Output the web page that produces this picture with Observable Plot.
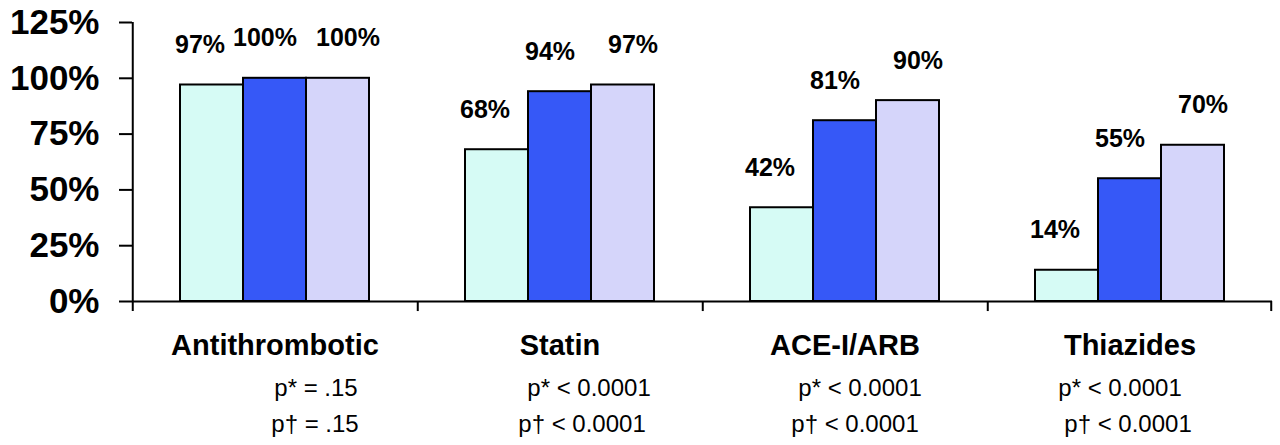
<!DOCTYPE html>
<html>
<head>
<meta charset="utf-8">
<script src="https://cdn.jsdelivr.net/npm/d3@7"></script>
<script src="https://cdn.jsdelivr.net/npm/@observablehq/plot@0.6"></script>
<style>
  html, body { margin: 0; padding: 0; background: #fff; }
  #chart svg { display: block; font-family: "Liberation Sans", Arial, sans-serif; }
  #chart [aria-label="y-axis tick label"] text { font-weight: bold; }
  #chart [aria-label="y-axis tick"] { stroke-width: 2px; stroke: #000; }
</style>
</head>
<body>
<div id="chart"></div>
<script>
const categories = ["Antithrombotic", "Statin", "ACE-I/ARB", "Thiazides"];
const series = ["Group 1", "Group 2", "Group 3"];
const values1 = [97, 68, 42, 14];
const values2 = [100, 94, 81, 55];
const values3 = [100, 97, 90, 70];
const pStar = ["p* = .15", "p* < 0.0001", "p* < 0.0001", "p* < 0.0001"];
const pDagger = ["p\u2020 = .15", "p\u2020 < 0.0001", "p\u2020 < 0.0001", "p\u2020 < 0.0001"];
const yTicks = [0, 25, 50, 75, 100, 125];
const colors = ["#d6fbf5", "#3658f7", "#d5d5fa"];

const seriesValues = [values1, values2, values3];
const data = categories.flatMap((c, i) =>
  series.map((s, j) => ({category: c, series: s, value: seriesValues[j][i]}))
);
const pData = categories.map((c, i) => ({category: c, star: pStar[i], dagger: pDagger[i]}));

const W = 1280, H = 445, ML = 131, MR = 8, MT = 22, MB = 144;
const facetW = (W - ML - MR) / categories.length;
const step = facetW / (series.length + 1.5);
const edge = step * 1.25; // from centre of first/last bar to facet edge

const labelDx = [-12, -10, 10];
const pStarDx = [41, 29, 15, -10];
const pDaggerDx = [40, 22, 10, -2];

const marks = [
  Plot.barY(data, {fx: "category", x: "series", y: "value", fill: "series", stroke: "black", strokeWidth: 2}),
  Plot.ruleY([0], {stroke: "black", strokeWidth: 2}),
  Plot.ruleX([categories[0]], {fx: d => d, x: () => series[0], y1: -4.5, y2: 125, dx: -edge, stroke: "black", strokeWidth: 2}),
  Plot.ruleX(categories.slice(1), {fx: d => d, x: () => series[0], y1: -4.5, y2: 0, dx: -edge, stroke: "black", strokeWidth: 2}),
  Plot.ruleX([categories[categories.length - 1]], {fx: d => d, x: () => series[series.length - 1], y1: -4.5, y2: 0, dx: edge - 1, stroke: "black", strokeWidth: 2}),
  Plot.axisY({ticks: yTicks, tickFormat: d => d + "%", tickSize: 13, tickPadding: 20, fontSize: 35, fontWeight: "bold", strokeWidth: 2, stroke: "black", fill: "black", label: null}),
  Plot.text(categories, {fx: d => d, x: () => series[1], frameAnchor: "bottom", text: d => d, dy: 44, lineAnchor: "middle", fontSize: 29, fontWeight: "bold", fill: "black"})
];
series.forEach((s, j) => {
  marks.push(Plot.text(data.filter(d => d.series === s), {fx: "category", x: "series", y: "value", text: d => d.value + "%", dy: -40, dx: labelDx[j], lineAnchor: "middle", fontSize: 25, fontWeight: "bold", fill: "black"}));
});
categories.forEach((c, i) => {
  const row = pData.filter(d => d.category === c);
  marks.push(Plot.text(row, {fx: "category", x: () => series[1], frameAnchor: "bottom", text: "star", dy: 87, dx: pStarDx[i], lineAnchor: "middle", fontSize: 24, fill: "black"}));
  marks.push(Plot.text(row, {fx: "category", x: () => series[1], frameAnchor: "bottom", text: "dagger", dy: 123, dx: pDaggerDx[i], lineAnchor: "middle", fontSize: 24, fill: "black"}));
});

const chart = Plot.plot({
  width: W, height: H,
  marginLeft: ML, marginRight: MR, marginTop: MT, marginBottom: MB,
  fx: {domain: categories, padding: 0, axis: null},
  x: {domain: series, paddingInner: 0, paddingOuter: 0.75, axis: null},
  y: {domain: [0, 125], axis: null},
  color: {domain: series, range: colors},
  marks
});
document.getElementById("chart").appendChild(chart);
</script>
</body>
</html>
